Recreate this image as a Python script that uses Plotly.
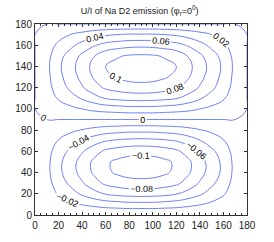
import plotly.graph_objects as go

# Angles (degrees)
x_vals = [0, 10, 20, 30, 40, 50, 60, 70, 80, 90, 100, 110, 120, 130, 140, 150, 160, 170, 180]
y_vals = [0, 10, 20, 30, 40, 50, 60, 70, 80, 90, 100, 110, 120, 130, 140, 150, 160, 170, 180]

# U/I values (rows = y, columns = x)
row_y0 = [0] * 19
row_y10 = [0, -.004, -.011, -.016, -.021, -.025, -.029, -.031, -.033, -.033, -.033, -.031, -.029, -.025, -.021, -.016, -.011, -.004, 0]
row_y20 = [0, -.009, -.022, -.032, -.043, -.053, -.061, -.066, -.068, -.069, -.068, -.066, -.061, -.053, -.043, -.032, -.022, -.009, 0]
row_y30 = [0, -.012, -.030, -.044, -.058, -.072, -.084, -.089, -.093, -.094, -.093, -.089, -.084, -.072, -.058, -.044, -.030, -.012, 0]
row_y40 = [0, -.014, -.035, -.051, -.067, -.083, -.096, -.103, -.107, -.108, -.107, -.103, -.096, -.083, -.067, -.051, -.035, -.014, 0]
row_y50 = [0, -.014, -.035, -.051, -.068, -.084, -.097, -.104, -.108, -.109, -.108, -.104, -.097, -.084, -.068, -.051, -.035, -.014, 0]
row_y60 = [0, -.012, -.030, -.044, -.058, -.072, -.084, -.089, -.093, -.094, -.093, -.089, -.084, -.072, -.058, -.044, -.030, -.012, 0]
row_y70 = [0, -.009, -.021, -.031, -.041, -.051, -.059, -.063, -.065, -.066, -.065, -.063, -.059, -.051, -.041, -.031, -.021, -.009, 0]
row_y80 = [0, -.004, -.011, -.016, -.021, -.026, -.030, -.032, -.034, -.034, -.034, -.032, -.030, -.026, -.021, -.016, -.011, -.004, 0]
row_y90 = [0] * 19
row_y100 = [0, .004, .010, .015, .020, .025, .028, .030, .032, .032, .032, .030, .028, .025, .020, .015, .010, .004, 0]
row_y110 = [0, .009, .022, .032, .042, .052, .061, .065, .067, .068, .067, .065, .061, .052, .042, .032, .022, .009, 0]
row_y120 = [0, .012, .030, .044, .058, .072, .083, .088, .092, .093, .092, .088, .083, .072, .058, .044, .030, .012, 0]
row_y130 = [0, .014, .034, .050, .066, .082, .095, .102, .106, .107, .106, .102, .095, .082, .066, .050, .034, .014, 0]
row_y140 = [0, .015, .036, .053, .069, .086, .100, .106, .111, .112, .111, .106, .100, .086, .069, .053, .036, .015, 0]
row_y150 = [0, .013, .033, .048, .064, .079, .092, .098, .102, .103, .102, .098, .092, .079, .064, .048, .033, .013, 0]
row_y160 = [0, .010, .024, .035, .047, .058, .067, .071, .074, .075, .074, .071, .067, .058, .047, .035, .024, .010, 0]
row_y170 = [0, .006, .013, .020, .026, .032, .037, .040, .042, .042, .042, .040, .037, .032, .026, .020, .013, .006, 0]
row_y180 = [0] * 19

x_ticks = [0, 20, 40, 60, 80, 100, 120, 140, 160, 180]
y_ticks = [0, 20, 40, 60, 80, 100, 120, 140, 160, 180]

z = [row_y0, row_y10, row_y20, row_y30, row_y40, row_y50, row_y60, row_y70, row_y80,
     row_y90, row_y100, row_y110, row_y120, row_y130, row_y140, row_y150, row_y160,
     row_y170, row_y180]

FONT = "Liberation Sans, Arial, sans-serif"

fig = go.Figure(go.Contour(
    x=x_vals, y=y_vals, z=z,
    contours=dict(start=-0.1, end=0.1, size=0.02, coloring="lines",
                  showlabels=True,
                  labelfont=dict(family=FONT, size=9, color="black")),
    colorscale=[[0, "#6f7ff5"], [1, "#6f7ff5"]],
    line=dict(width=1, smoothing=1.3),
    showscale=False,
    hoverinfo="skip",
))

axis_common = dict(
    showline=True, linecolor="#333333", linewidth=1, mirror="ticks",
    ticks="inside", ticklen=3, tickcolor="#333333",
    showgrid=False, zeroline=False,
    tickfont=dict(family=FONT, size=10, color="#222222"),
)

fig.update_layout(
    width=274, height=242,
    margin=dict(l=35, r=27, t=24, b=27),
    paper_bgcolor="white", plot_bgcolor="white",
    title=dict(text="U/I of Na D2 emission (φ<sub>r</sub>=0<sup>0</sup>)",
               x=0.51, xanchor="center", y=0.955, yanchor="middle",
               font=dict(family=FONT, size=9, color="#222222")),
    xaxis=dict(range=[0, 180], tickvals=x_ticks, ticklabelstandoff=1,
               minor=dict(ticks="inside", dtick=5, ticklen=2, tickcolor="#333333"),
               **axis_common),
    yaxis=dict(range=[0, 180], tickvals=y_ticks, **axis_common),
)

fig.write_html("out.html", config={"displayModeBar": False},
               post_script="document.body.style.margin='0';")
